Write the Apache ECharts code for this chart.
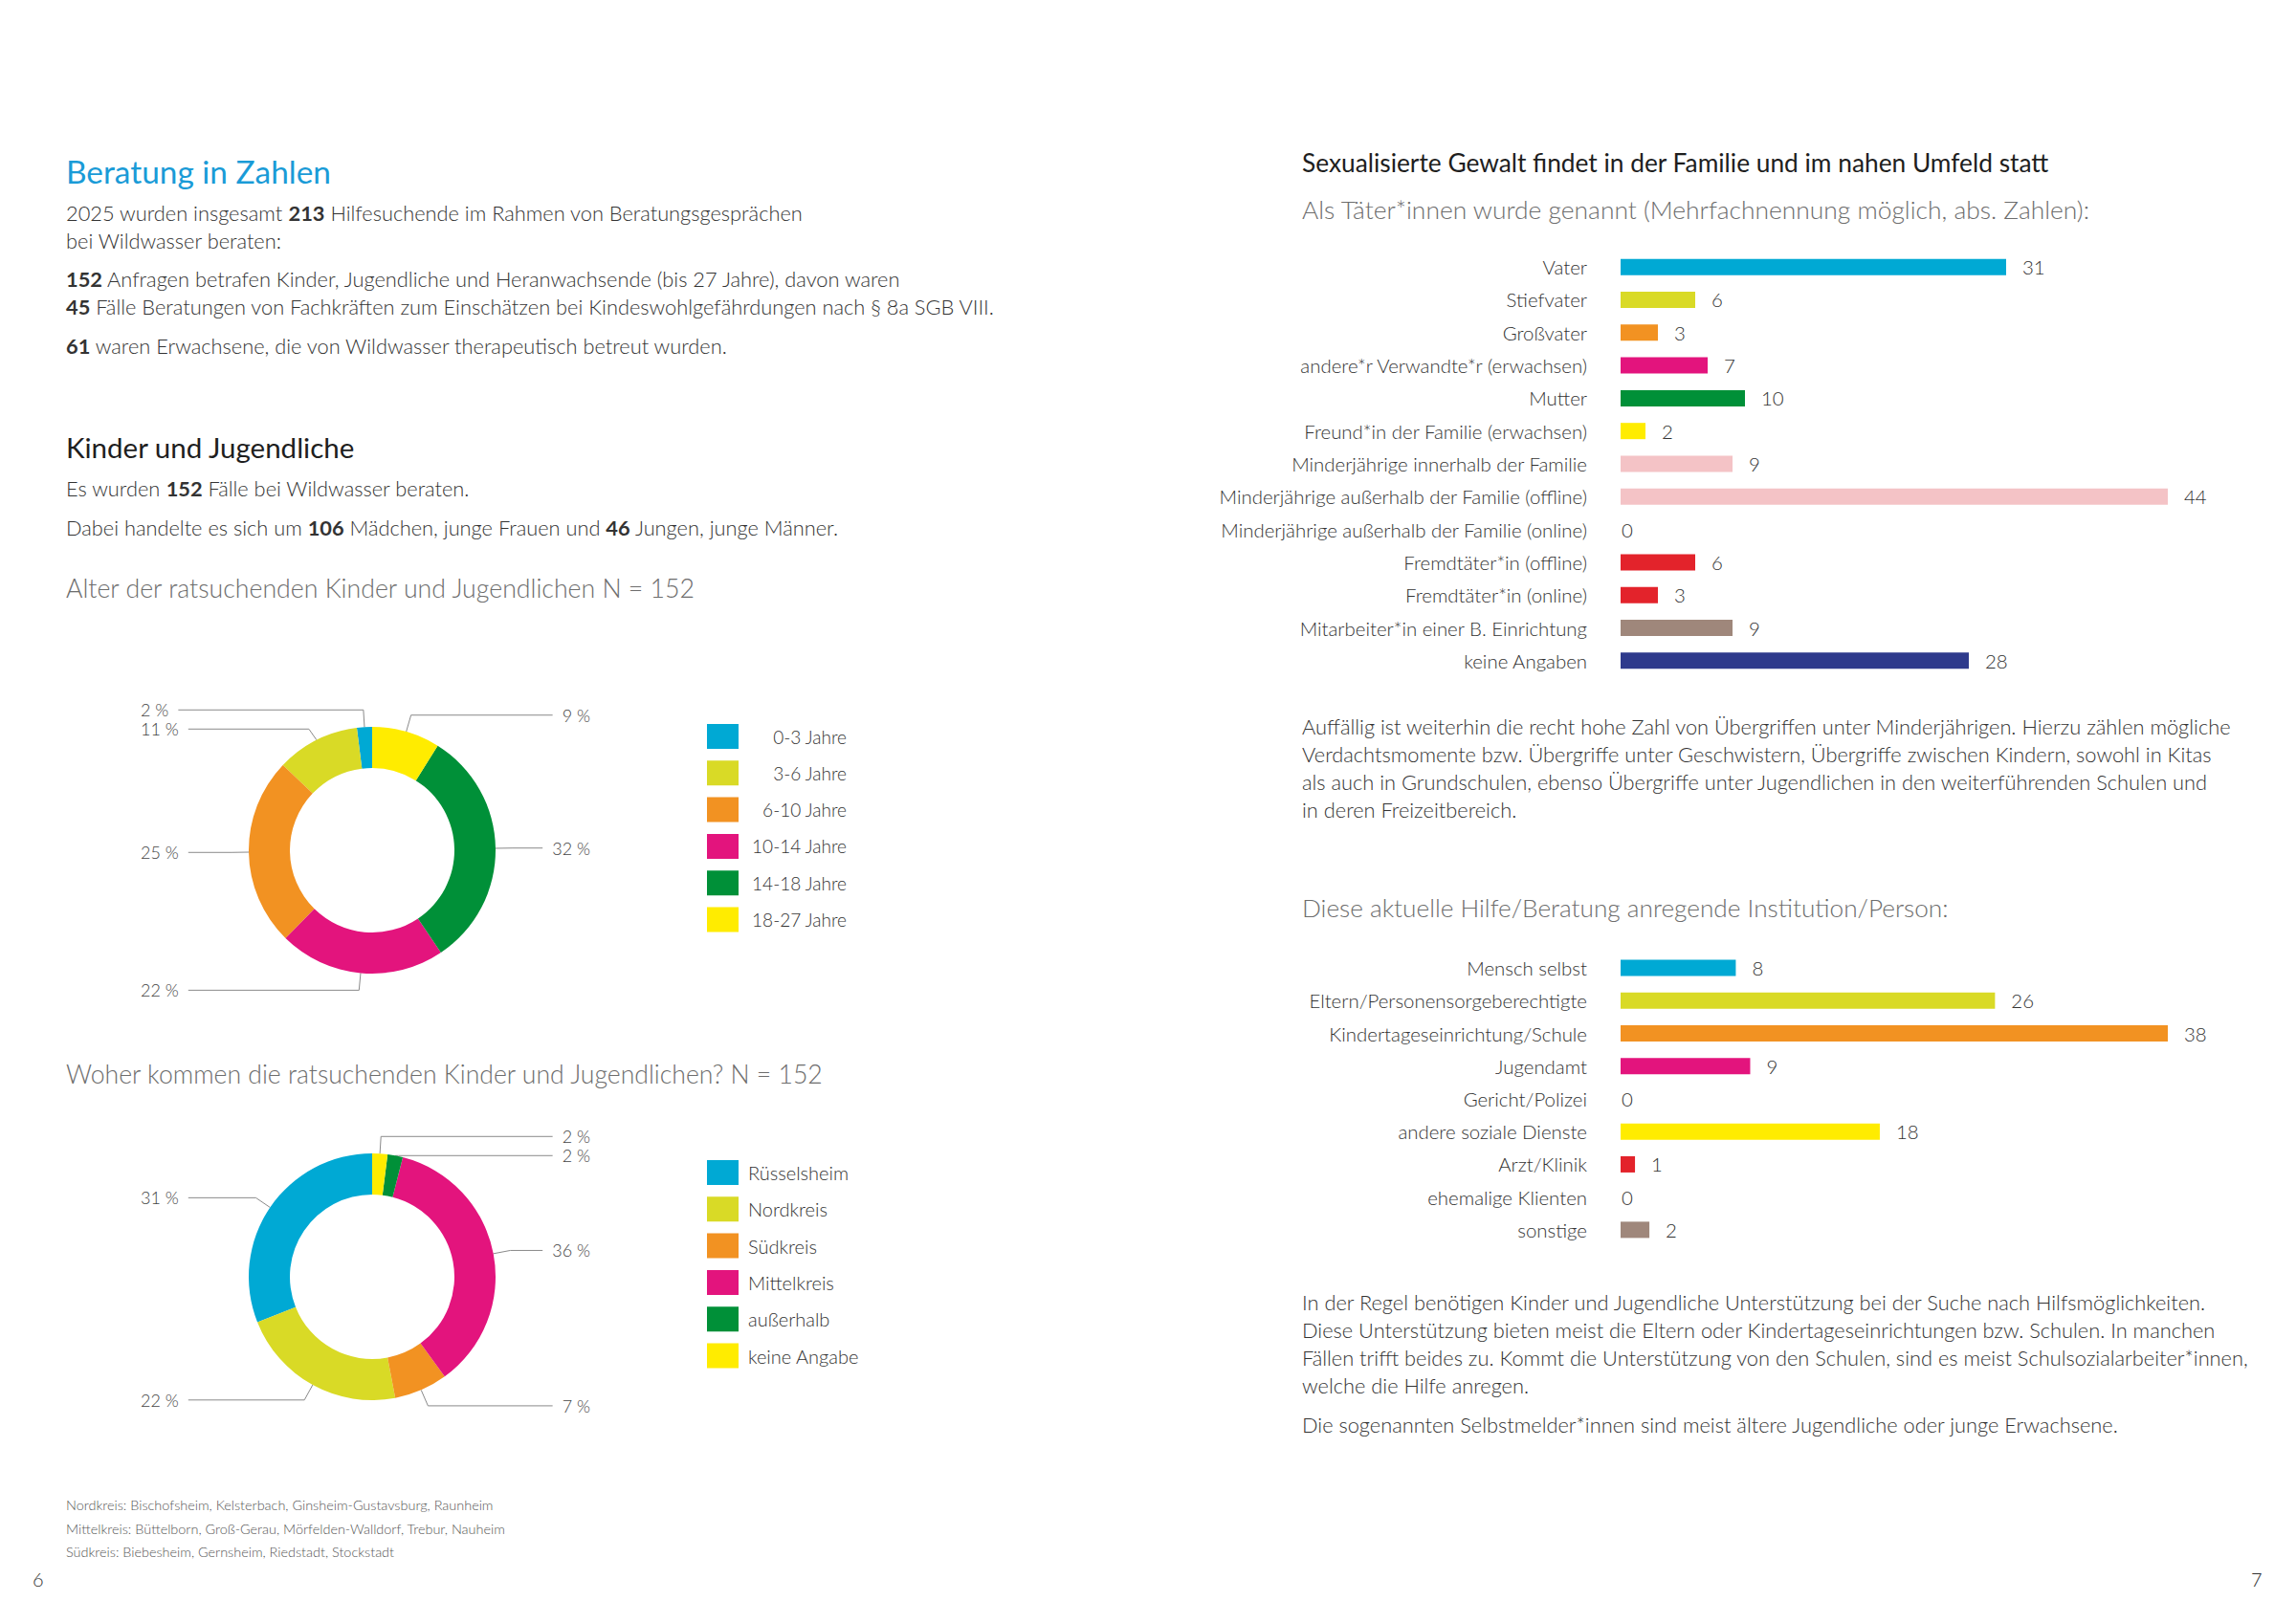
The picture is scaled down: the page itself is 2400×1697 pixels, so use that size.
<!DOCTYPE html>
<html>
<head>
<meta charset="utf-8">
<title>Beratung in Zahlen</title>
<script src="https://cdn.jsdelivr.net/npm/echarts@6/dist/echarts.min.js"></script>
<style>
  html, body { margin: 0; padding: 0; background: #fff; }
  #chart { width: 2400px; height: 1697px; }
</style>
</head>
<body>
<div id="chart"></div>
<script>
// Alter der ratsuchenden Kinder und Jugendlichen (Prozent)
const ageNames = ['0-3 Jahre', '3-6 Jahre', '6-10 Jahre', '10-14 Jahre', '14-18 Jahre', '18-27 Jahre']
const agePercent = [2, 11, 25, 22, 32, 9]

// Herkunft (Prozent)
const regionNames = ['Rüsselsheim', 'Nordkreis', 'Südkreis', 'Mittelkreis', 'außerhalb', 'keine Angabe']
const regionPercent = [31, 22, 7, 36, 2, 2]

// Täter*innen (abs. Zahlen)
const taeterNames = [
  'Vater', 'Stiefvater', 'Großvater', 'andere*r Verwandte*r (erwachsen)', 'Mutter',
  'Freund*in der Familie (erwachsen)', 'Minderjährige innerhalb der Familie',
  'Minderjährige außerhalb der Familie (offline)', 'Minderjährige außerhalb der Familie (online)',
  'Fremdtäter*in (offline)', 'Fremdtäter*in (online)', 'Mitarbeiter*in einer B. Einrichtung', 'keine Angaben'
]
const taeterValues = [31, 6, 3, 7, 10, 2, 9, 44, 0, 6, 3, 9, 28]

// anregende Institution/Person (abs. Zahlen)
const anregerNames = [
  'Mensch selbst', 'Eltern/Personensorgeberechtigte', 'Kindertageseinrichtung/Schule', 'Jugendamt',
  'Gericht/Polizei', 'andere soziale Dienste', 'Arzt/Klinik', 'ehemalige Klienten', 'sonstige'
]
const anregerValues = [8, 26, 38, 9, 0, 18, 1, 0, 2]

// Farben
const cyan = '#00a9d4'
const lime = '#d9da26'
const orange = '#f29222'
const magenta = '#e3147d'
const green = '#009038'
const yellow = '#ffec00'
const pink = '#f4c3c6'
const red = '#e3232b'
const taupe = '#9f877b'
const navy = '#2e3a8c'

const pieColors = [cyan, lime, orange, magenta, green, yellow]
const taeterColors = [cyan, lime, orange, magenta, green, yellow, pink, pink, pink, red, red, taupe, navy]
const anregerColors = [cyan, lime, orange, magenta, green, yellow, red, taupe, taupe]

const FONT = 'Lato'
const TEXT = '#333'
const GREY = '#6d6d6d'

const chart = echarts.init(document.getElementById('chart'), null, { renderer: 'svg' })

function txt(x, y, text, size, color, weight) {
  return {
    type: 'text',
    x: x,
    y: y,
    silent: true,
    style: {
      text: text,
      fontFamily: FONT,
      fontSize: size,
      fontWeight: weight || 300,
      fill: color,
      verticalAlign: 'middle',
      rich: {
        b: { fontFamily: FONT, fontSize: size, fontWeight: 'bold', fill: color }
      }
    }
  }
}

const P = 21.8 // Fließtext
const texts = [
  txt(69, 179, 'Beratung in Zahlen', 33.4, '#1a9bd7', 'normal'),
  txt(69, 222, '2025 wurden insgesamt {b|213} Hilfesuchende im Rahmen von Beratungsgesprächen', P, TEXT),
  txt(69, 251, 'bei Wildwasser beraten:', P, TEXT),
  txt(69, 291, '{b|152} Anfragen betrafen Kinder, Jugendliche und Heranwachsende (bis 27 Jahre), davon waren', P, TEXT),
  txt(69, 320, '{b|45} Fälle Beratungen von Fachkräften zum Einschätzen bei Kindeswohlgefährdungen nach § 8a SGB VIII.', P, TEXT),
  txt(69, 361, '{b|61} waren Erwachsene, die von Wildwasser therapeutisch betreut wurden.', P, TEXT),
  txt(69, 467, 'Kinder und Jugendliche', 29.5, '#1e1e1e', 'normal'),
  txt(69, 510, 'Es wurden {b|152} Fälle bei Wildwasser beraten.', P, TEXT),
  txt(69, 551, 'Dabei handelte es sich um {b|106} Mädchen, junge Frauen und {b|46} Jungen, junge Männer.', P, TEXT),
  txt(69, 615, 'Alter der ratsuchenden Kinder und Jugendlichen N = 152', 26.7, GREY),
  txt(69, 1123, 'Woher kommen die ratsuchenden Kinder und Jugendlichen? N = 152', 26.6, GREY),
  txt(69, 1573, 'Nordkreis: Bischofsheim, Kelsterbach, Ginsheim-Gustavsburg, Raunheim', 14.45, '#555'),
  txt(69, 1598, 'Mittelkreis: Büttelborn, Groß-Gerau, Mörfelden-Walldorf, Trebur, Nauheim', 14.45, '#555'),
  txt(69, 1622, 'Südkreis: Biebesheim, Gernsheim, Riedstadt, Stockstadt', 14.45, '#555'),
  txt(34, 1651, '6', 20, TEXT),

  txt(1361, 170, 'Sexualisierte Gewalt findet in der Familie und im nahen Umfeld statt', 26.3, '#1e1e1e', 'normal'),
  txt(1361, 219, 'Als Täter*innen wurde genannt (Mehrfachnennung möglich, abs. Zahlen):', 26.4, GREY),
  txt(1361, 759, 'Auffällig ist weiterhin die recht hohe Zahl von Übergriffen unter Minderjährigen. Hierzu zählen mögliche', P, TEXT),
  txt(1361, 788, 'Verdachtsmomente bzw. Übergriffe unter Geschwistern, Übergriffe zwischen Kindern, sowohl in Kitas', P, TEXT),
  txt(1361, 817, 'als auch in Grundschulen, ebenso Übergriffe unter Jugendlichen in den weiterführenden Schulen und', P, TEXT),
  txt(1361, 846, 'in deren Freizeitbereich.', P, TEXT),
  txt(1361, 949, 'Diese aktuelle Hilfe/Beratung anregende Institution/Person:', 26.2, GREY),
  txt(1361, 1361, 'In der Regel benötigen Kinder und Jugendliche Unterstützung bei der Suche nach Hilfsmöglichkeiten.', P, TEXT),
  txt(1361, 1390, 'Diese Unterstützung bieten meist die Eltern oder Kindertageseinrichtungen bzw. Schulen. In manchen', P, TEXT),
  txt(1361, 1419, 'Fällen trifft beides zu. Kommt die Unterstützung von den Schulen, sind es meist Schulsozialarbeiter*innen,', P, TEXT),
  txt(1361, 1448, 'welche die Hilfe anregen.', P, TEXT),
  txt(1361, 1489, 'Die sogenannten Selbstmelder*innen sind meist ältere Jugendliche oder junge Erwachsene.', P, TEXT),
  txt(2353, 1651, '7', 20, TEXT)
]

function pieData(names, values, colors) {
  return names.map((name, i) => ({ name: name, value: values[i], itemStyle: { color: colors[i] } }))
}

function donut(top, names, values) {
  return {
    type: 'pie',
    left: 147,
    top: top,
    width: 470,
    height: 380,
    center: [242, 189],
    radius: [86, 129],
    clockwise: false,
    startAngle: 90,
    silent: true,
    avoidLabelOverlap: true,
    label: {
      formatter: '{c} %',
      alignTo: 'edge',
      edgeDistance: 0,
      distanceToLabelLine: 10,
      fontFamily: FONT,
      fontSize: 18,
      fontWeight: 300,
      color: '#444'
    },
    labelLine: { length: 18, length2: 0, lineStyle: { color: '#8a8a8a', width: 1 } },
    data: pieData(names, values, pieColors)
  }
}

function bars(idx, values, colors) {
  return {
    type: 'bar',
    xAxisIndex: idx,
    yAxisIndex: idx,
    barWidth: 17,
    silent: true,
    data: values.map((v, i) => ({
      value: v,
      itemStyle: { color: colors[i] },
      label: { distance: v === 0 ? 1 : 17 }
    })),
    label: {
      show: true,
      position: 'right',
      fontFamily: FONT,
      fontSize: 20.4,
      fontWeight: 300,
      color: TEXT
    }
  }
}

function legend(top, names, rightAligned) {
  const size = rightAligned ? 19 : 20
  return {
    orient: 'vertical',
    left: 734,
    top: top,
    data: names,
    icon: 'rect',
    itemWidth: 33,
    itemHeight: 26,
    itemGap: 12.3,
    selectedMode: false,
    formatter: rightAligned ? '{r|{name}}' : '{l|{name}}',
    textStyle: {
      fontFamily: FONT,
      fontSize: size,
      fontWeight: 300,
      color: TEXT,
      rich: {
        r: { width: 108, align: 'right', fontFamily: FONT, fontSize: size, fontWeight: 300, color: TEXT },
        l: { padding: [0, 0, 0, 5], fontFamily: FONT, fontSize: size, fontWeight: 300, color: TEXT }
      }
    }
  }
}

function catAxis(idx, names) {
  return {
    gridIndex: idx,
    type: 'category',
    inverse: true,
    data: names,
    axisLine: { show: false },
    axisTick: { show: false },
    axisLabel: { margin: 35, fontFamily: FONT, fontSize: 20.4, fontWeight: 300, color: TEXT }
  }
}

chart.setOption({
  backgroundColor: '#fff',
  animation: false,
  graphic: texts,
  legend: [
    legend(752, ageNames, true),
    legend(1208, regionNames, false)
  ],
  grid: [
    { left: 1694, top: 262, width: 572, height: 446 },
    { left: 1694, top: 995, width: 572, height: 308 }
  ],
  xAxis: [
    { gridIndex: 0, type: 'value', min: 0, max: 'dataMax', show: false },
    { gridIndex: 1, type: 'value', min: 0, max: 'dataMax', show: false }
  ],
  yAxis: [
    catAxis(0, taeterNames),
    catAxis(1, anregerNames)
  ],
  series: [
    donut(700, ageNames, agePercent),
    donut(1146, regionNames, regionPercent),
    bars(0, taeterValues, taeterColors),
    bars(1, anregerValues, anregerColors)
  ]
})
</script>
</body>
</html>
